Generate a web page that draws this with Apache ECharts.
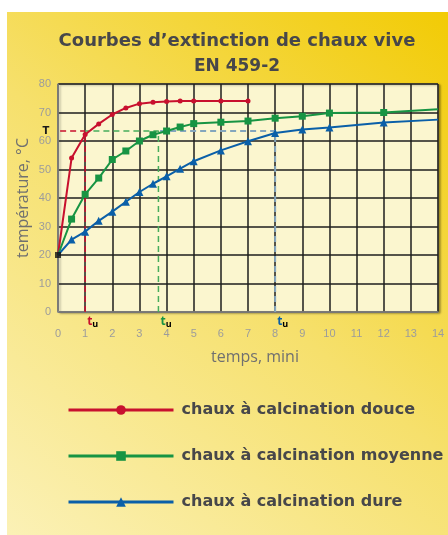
<!DOCTYPE html>
<html><head><meta charset="utf-8">
<script src="https://cdn.jsdelivr.net/npm/echarts@6/dist/echarts.min.js"></script>
<style>html,body{margin:0;padding:0;background:#fff}#c{width:448px;height:535px}</style>
</head><body><div id="c"></div>
<script>
const titleText = "Courbes d\u2019extinction de chaux vive";
const subTitleText = "EN 459-2";
const seriesNames = ["chaux \u00e0 calcination douce","chaux \u00e0 calcination moyenne","chaux \u00e0 calcination dure"];
const redX = [0,0.5,1,1.5,2,2.5,3,3.5,4,4.5,5,6,7];
const redY = [20,54,62.3,66,69.3,71.6,73.1,73.6,73.9,74,74,74,74];
const greenX = [0,0.5,1,1.5,2,2.5,3,3.5,4,4.5,5,6,7,8,9,10,12,14];
const greenY = [20,32.6,41.3,47,53.5,56.5,60,62.2,63.5,64.9,66.1,66.6,67,68,68.7,69.8,70,71.1];
const blueX = [0,0.5,1,1.5,2,2.5,3,3.5,4,4.5,5,6,7,8,9,10,12,14];
const blueY = [20,25.4,28.2,32,35.2,38.7,42.1,45,47.6,50.3,52.9,56.7,59.9,62.8,64,64.7,66.5,67.5];
const startPoint = [0,20];
const T = 63.5;
const tuValues = [1, 3.7, 8];
const xTicks = [0,1,2,3,4,5,6,7,8,9,10,11,12,13,14];
const yTicks = [0,10,20,30,40,50,60,70,80];
const colors = ['#c8102e','#179443','#0a5fa8'];

function pts(xs, ys, lastNoSymbol){
  return xs.map((x,i)=>{
    const item = {value:[x,ys[i]]};
    if(i===0 || (lastNoSymbol && i===xs.length-1)) item.symbol='none';
    return item;
  });
}
const chart = echarts.init(document.getElementById('c'));
const axisFont = {fontFamily:'Liberation Sans Narrow, Arial Narrow, sans-serif', fontSize:11, color:'#9c9c9c'};
const boldFont = 'DejaVu Sans';
const option = {
  animation:false,
  title:[
    {text:titleText, left:232, textAlign:'center', top:27, textStyle:{fontFamily:boldFont, fontWeight:'bold', fontSize:18, color:'#47474a'}},
    {text:subTitleText, left:232, textAlign:'center', top:53, textStyle:{fontFamily:boldFont, fontWeight:'bold', fontSize:17, color:'#47474a'}}
  ],
  grid:{left:58, top:84, width:380, height:228, show:true, backgroundColor:'#fbf6cf', borderColor:'#8c8c8c', borderWidth:1,
        shadowColor:'rgba(0,0,0,0.35)', shadowOffsetX:2, shadowOffsetY:1, shadowBlur:2},
  xAxis:{type:'value', min:0, max:14, interval:1,
    name:'temps, mini', nameLocation:'middle', nameGap:37,
    nameTextStyle:{fontFamily:'Open Sans', fontSize:16, color:'#707070', padding:[0,0,0,14]},
    axisLine:{lineStyle:{color:'#8c8c8c', width:1.5}}, axisTick:{show:false},
    axisLabel:Object.assign({margin:16, formatter:v=>xTicks.includes(v)?String(v):''}, axisFont),
    splitLine:{lineStyle:{color:'#1e1e1e', width:1.5}}},
  yAxis:{type:'value', min:0, max:80, interval:10,
    name:'temp\u00e9rature, \u00b0C', nameLocation:'middle', nameGap:27, nameMoveOverlap:false,
    nameTextStyle:{fontFamily:'Open Sans', fontSize:16, color:'#707070'},
    axisLine:{show:true, lineStyle:{color:'#8c8c8c', width:1.5}}, axisTick:{show:false},
    axisLabel:Object.assign({margin:7, formatter:v=>yTicks.includes(v)?String(v):''}, axisFont),
    splitLine:{lineStyle:{color:'#1e1e1e', width:1.5}}},
  legend:{orient:'vertical', left:67, top:402, padding:0, itemWidth:105, itemHeight:12, itemGap:30,
    data:seriesNames,
    lineStyle:{width:3},
    textStyle:{fontFamily:boldFont, fontWeight:'bold', fontSize:16, color:'#47474a', padding:[0,0,0,3]}},
  series:[
    {name:'dashRed', type:'line', data:[[1,0],[1,T],[0,T]], symbol:'none', silent:true,
     lineStyle:{color:'#c8102e', width:1.5, type:[6,4]}, z:3},
    {name:'dashGreen', type:'line', data:[[tuValues[1],0],[tuValues[1],T],[1,T]], symbol:'none', silent:true,
     lineStyle:{color:'#47ad5c', width:1.5, type:[6,4]}, z:3},
    {name:'dashBlue', type:'line', data:[[tuValues[2],0],[tuValues[2],T],[tuValues[1],T]], symbol:'none', silent:true,
     lineStyle:{color:'#84a6bd', width:2, type:[6,4]}, z:3},
    {name:seriesNames[0], type:'line', data:pts(redX,redY,false), color:colors[0], symbol:'circle', symbolSize:5,
     lineStyle:{width:2}, z:5},
    {name:seriesNames[1], type:'line', data:pts(greenX,greenY,true), color:colors[1], symbol:'rect', symbolSize:7,
     lineStyle:{width:2}, z:5},
    {name:seriesNames[2], type:'line', data:pts(blueX,blueY,true), color:colors[2], symbol:'triangle', symbolSize:8,
     lineStyle:{width:2}, z:5},
    {name:'start', type:'scatter', data:[startPoint], symbol:'rect', symbolSize:6, itemStyle:{color:'#111'}, z:6, silent:true}
  ]
};
chart.setOption(option);
const g = [];
g.push({type:'rect', shape:{x:7, y:12, width:441, height:523}, z:-10, silent:true,
  style:{fill:new echarts.graphic.LinearGradient(0,1,1,0,[{offset:0,color:'#fbf1b6'},{offset:0.5,color:'#f6e06c'},{offset:1,color:'#f2cb05'}])}});
const tp = chart.convertToPixel({gridIndex:0},[0,T]);
g.push({type:'text', x:tp[0]-12, y:tp[1], silent:true,
  style:{text:'T', fontFamily:'DejaVu Sans', fontWeight:'bold', fontSize:10, fill:'#1a1a1a', align:'center', verticalAlign:'middle'}});
tuValues.forEach((v,i)=>{
  const p = chart.convertToPixel({gridIndex:0},[v,0]);
  g.push({type:'text', x:p[0]+2, y:p[1]+3, silent:true,
    style:{text:'{t|t}{u|u}', rich:{t:{fontFamily:'Open Sans', fontWeight:'bold', fontSize:12, fill:colors[i], color:colors[i]},
      u:{fontFamily:'Open Sans', fontWeight:'bold', fontSize:9, color:colors[i], padding:[5,0,0,0]}}}});
});
chart.setOption({graphic:g});
</script></body></html>
